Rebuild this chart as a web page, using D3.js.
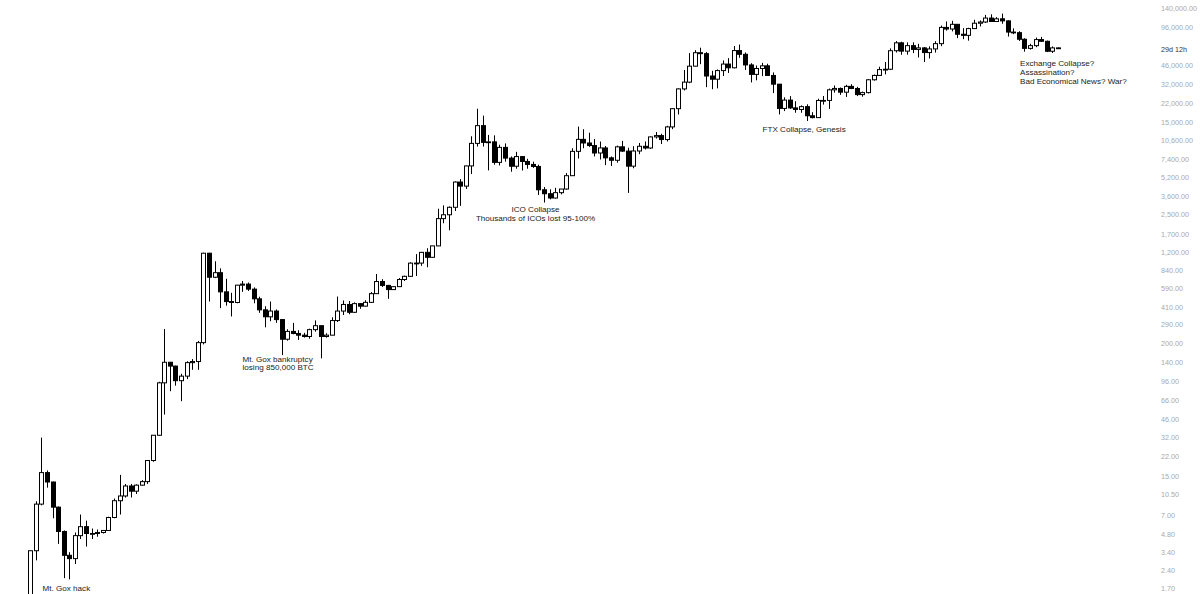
<!DOCTYPE html>
<html>
<head>
<meta charset="utf-8">
<script src="https://cdn.jsdelivr.net/npm/d3@7"></script>
<style>
  html, body { margin: 0; padding: 0; background: #ffffff; }
  svg { display: block; }
</style>
</head>
<body>
<svg id="chart" width="1200" height="594"></svg>
<script>
// Monthly candles, Apr 2011 .. latest
const months = [
  "2011-04","2011-05","2011-06","2011-07","2011-08","2011-09","2011-10","2011-11","2011-12",
  "2012-01","2012-02","2012-03","2012-04","2012-05","2012-06","2012-07","2012-08","2012-09","2012-10","2012-11","2012-12",
  "2013-01","2013-02","2013-03","2013-04","2013-05","2013-06","2013-07","2013-08","2013-09","2013-10","2013-11","2013-12",
  "2014-01","2014-02","2014-03","2014-04","2014-05","2014-06","2014-07","2014-08","2014-09","2014-10","2014-11","2014-12",
  "2015-01","2015-02","2015-03","2015-04","2015-05","2015-06","2015-07","2015-08","2015-09","2015-10","2015-11","2015-12",
  "2016-01","2016-02","2016-03","2016-04","2016-05","2016-06","2016-07","2016-08","2016-09","2016-10","2016-11","2016-12",
  "2017-01","2017-02","2017-03","2017-04","2017-05","2017-06","2017-07","2017-08","2017-09","2017-10","2017-11","2017-12",
  "2018-01","2018-02","2018-03","2018-04","2018-05","2018-06","2018-07","2018-08","2018-09","2018-10","2018-11","2018-12",
  "2019-01","2019-02","2019-03","2019-04","2019-05","2019-06","2019-07","2019-08","2019-09","2019-10","2019-11","2019-12",
  "2020-01","2020-02","2020-03","2020-04","2020-05","2020-06","2020-07","2020-08","2020-09","2020-10","2020-11","2020-12",
  "2021-01","2021-02","2021-03","2021-04","2021-05","2021-06","2021-07","2021-08","2021-09","2021-10","2021-11","2021-12",
  "2022-01","2022-02","2022-03","2022-04","2022-05","2022-06","2022-07","2022-08","2022-09","2022-10","2022-11","2022-12",
  "2023-01","2023-02","2023-03","2023-04","2023-05","2023-06","2023-07","2023-08","2023-09","2023-10","2023-11","2023-12",
  "2024-01","2024-02","2024-03","2024-04","2024-05","2024-06","2024-07","2024-08","2024-09","2024-10","2024-11","2024-12",
  "2025-01","2025-02","2025-03","2025-04","2025-05","2025-06","2025-07","2025-08","2025-09","2025-10","2025-11","2025-12",
  "2026-01","2026-02","2026-03","2026-04","2026-05","2026-06","2026-07","2026-08"
];

const opens = [
  0.78,3.5,8.7,16.1,13.4,8.2,5.1,3.2,3.0,
  4.7,5.6,4.9,4.9,5.0,5.2,6.7,9.3,10.2,12.4,11.2,12.6,
  13.5,20.4,33.4,93,139,129,97,106,138,141,204,1170,
  732,800,550,455,447,627,640,580,480,387,338,378,
  320,218,254,244,236,230,263,284,230,236,314,378,
  430,369,437,416,448,531,673,624,575,609,700,745,
  964,965,1190,1080,1350,2300,2480,2870,4700,4340,6440,10000,
  14150,10200,10300,6900,9250,7500,6400,7730,7030,6630,6370,4040,
  3740,3440,3820,4100,5320,8560,10820,10080,9590,8290,9150,7540,
  7190,9350,8600,6410,8620,9450,9140,11350,11650,10780,13800,19700,
  28990,33100,45200,58800,57700,37300,35040,41460,47100,43800,61300,57000,
  46300,38500,43200,45500,37700,31800,19800,23300,20000,19400,20500,17150,
  16550,23130,23150,28480,29250,27200,30470,29230,25940,26960,34650,37720,
  42280,42580,61130,71300,60640,67500,62700,64600,58970,63300,70200,96400,
  93400,102400,84350,82550,94200,104600,107100,115700,108200,114000,109500,88000,
  87000,76500,64000,67500,76000,73500,60500,64600
];
const highs = [
  3.5,9.2,31.9,16.8,13.5,8.3,5.2,3.4,5.0,
  7.1,6.3,5.4,5.3,5.2,6.8,9.7,15.4,12.9,12.9,12.8,13.9,
  20.4,33.5,95,266,140,130,111,142,148,211,1180,1180,
  1000,870,710,540,630,680,660,600,500,415,455,390,
  320,265,300,260,247,268,315,285,245,335,502,465,
  460,448,439,467,548,780,705,630,610,720,755,980,
  1150,1200,1290,1350,2790,2980,2920,4760,4980,6470,11500,19700,
  17200,11800,11700,9750,9990,7750,8480,7760,7400,7000,6600,4260,
  4080,4200,4100,5600,9100,13880,13200,12330,10900,10370,9500,7750,
  9580,10500,9190,9470,10080,10380,11430,12480,12080,14100,19900,29300,
  41950,58350,61790,64850,59600,41300,42400,50500,52900,67000,69000,59100,
  47900,45800,48200,47400,40000,31900,24600,25200,22800,21000,21450,18400,
  23950,25250,29200,31000,29800,31400,31800,30200,27500,35200,38400,44700,
  48970,64000,73800,72800,71950,72000,70000,65600,66500,73600,99800,108300,
  109600,102800,95000,95700,111900,110500,123200,124500,117900,126200,110500,94600,
  89500,78000,70000,79000,80000,74500,66500,64900
];
const lows = [
  0.56,2.9,8.5,12.0,6.6,4.0,2.05,2.0,2.7,
  4.4,3.8,4.4,4.6,4.9,5.2,6.6,7.1,9.9,9.9,10.6,12.5,
  12.9,19.9,33.0,50,79,88,65,100,120,120,197,455,
  720,400,420,340,440,550,560,440,365,275,310,300,
  160,212,240,215,225,220,253,150,225,236,305,350,
  355,365,395,414,443,530,605,480,570,605,680,740,
  750,915,890,1070,1350,2100,1830,2670,2950,4110,5500,9400,
  9400,5900,6600,6500,7000,5750,6100,5880,6100,6200,3650,3150,
  3350,3400,3690,4050,5300,7450,9100,9330,7750,7300,6540,6430,
  6860,8460,3800,6150,8100,8880,8990,10990,9880,10380,13200,17600,
  28100,32400,45000,47000,30000,28800,29300,37300,39600,43300,53300,42000,
  32900,34300,37200,37600,26700,17600,18800,19600,18200,18200,15500,16300,
  16500,21350,19600,26950,25800,24800,28900,25200,24900,26550,34100,37600,
  38500,41880,59000,56500,56550,58400,53500,49000,52550,58900,66800,90500,
  89200,78200,76600,74400,93400,98200,105100,107300,107300,103500,80600,84500,
  74000,60000,62500,65500,73000,59500,58500,64300
];
const closes = [
  3.5,8.7,16.1,13.4,8.2,5.1,3.2,3.0,4.7,
  5.6,4.9,4.9,5.0,5.2,6.7,9.3,10.2,12.4,11.2,12.6,13.5,
  20.4,33.4,93,139,129,97,106,138,141,204,1170,732,
  800,550,455,447,627,640,580,480,387,338,378,320,
  218,254,244,236,230,263,284,230,236,314,378,430,
  369,437,416,448,531,673,624,575,609,700,745,964,
  965,1190,1080,1350,2300,2480,2870,4700,4340,6440,10000,14150,
  10200,10300,6900,9250,7500,6400,7730,7030,6630,6370,4040,3740,
  3440,3820,4100,5320,8560,10820,10080,9590,8290,9150,7540,7190,
  9350,8600,6410,8620,9450,9140,11350,11650,10780,13800,19700,28990,
  33100,45200,58800,57700,37300,35040,41460,47100,43800,61300,57000,46300,
  38500,43200,45500,37700,31800,19800,23300,20000,19400,20500,17150,16550,
  23130,23150,28480,29250,27200,30470,29230,25940,26960,34650,37720,42280,
  42580,61130,71300,60640,67500,62700,64600,58970,63300,70200,96400,93400,
  102400,84350,82550,94200,104600,107100,115700,108200,114000,109500,88000,87000,
  76500,64000,67500,76000,73500,60500,64600,64400
];

// Right price axis tick labels (66,000 sits under the countdown label in the reference)
const tickValues = [140000,96000,46000,32000,22000,15000,10600,7400,5200,3600,2500,1700,1200,
  840,590,410,290,200,140,96,66,46,32,22,15,10.5,7,4.8,3.4,2.4,1.7];

const countdownLabel = "29d 12h";

// Annotations
const notes = [
  { lines: ["Mt. Gox hack"], x: 42.5, y: 590.5, anchor: "start" },
  { lines: ["Mt. Gox bankruptcy", "losing 850,000 BTC"], x: 242.5, y: 361.5, anchor: "start" },
  { lines: ["ICO Collapse", "Thousands of ICOs lost 95-100%"], x: 535.5, y: 212, anchor: "middle" },
  { lines: ["FTX Collapse, Genesis"], x: 762.5, y: 132, anchor: "start" },
  { lines: ["Exchange Collapse?", "Assassination?", "Bad Economical News? War?"], x: 1020, y: 66, anchor: "start" }
];

const W = 1200, H = 594;
const svg = d3.select("#chart");

const x = d3.scaleLinear().domain([0, months.length - 1]).range([30.2, 30.2 + 5.585 * (months.length - 1)]);
const y = d3.scaleLog().domain([1.503, 164650]).range([H, 0]);

const data = months.map((m, i) => ({ m, i, o: opens[i], h: highs[i], l: lows[i], c: closes[i] }));

const plot = svg.append("g");

const candles = plot.selectAll("g.c").data(data).join("g").attr("class", "c");

candles.append("line")
  .attr("x1", d => Math.round(x(d.i)) + 0.5)
  .attr("x2", d => Math.round(x(d.i)) + 0.5)
  .attr("y1", d => y(d.h))
  .attr("y2", d => y(d.l))
  .attr("stroke", "#000")
  .attr("stroke-width", 1);

candles.append("rect")
  .attr("x", d => Math.round(x(d.i)) - 1.5)
  .attr("width", 4)
  .attr("y", d => Math.min(y(d.o), y(d.c)))
  .attr("height", d => Math.max(0.8, Math.abs(y(d.o) - y(d.c))))
  .attr("fill", d => d.c >= d.o ? "#ffffff" : "#000000")
  .attr("stroke", "#000")
  .attr("stroke-width", 1);

// Right axis
const fmt = d3.format(",.2f");
const axis = d3.axisRight(y).tickValues(tickValues).tickFormat(fmt).tickSize(0).tickPadding(0);
const ag = svg.append("g").attr("transform", "translate(1161,0)").call(axis);
ag.select(".domain").remove();
ag.selectAll("text")
  .attr("font-family", "'Liberation Sans', Arial, sans-serif")
  .attr("font-size", "7.2px")
  .attr("fill", "#a9a9a9");

// countdown label at the current price level
const lastClose = closes[closes.length - 1];
svg.append("text")
  .attr("x", 1161).attr("y", y(lastClose) + 3.5)
  .attr("font-family", "'Liberation Sans', Arial, sans-serif")
  .attr("font-size", "7.2px")
  .attr("fill", "#333")
  .text(countdownLabel);

// Annotations
const ng = svg.append("g")
  .attr("font-family", "'Liberation Sans', Arial, sans-serif")
  .attr("font-size", "8.1px")
  .attr("fill", "#222");
notes.forEach(n => {
  n.lines.forEach((t, k) => {
    ng.append("text").attr("x", n.x).attr("y", n.y + k * 8.8).attr("text-anchor", n.anchor).text(t);
  });
});
</script>
</body>
</html>
